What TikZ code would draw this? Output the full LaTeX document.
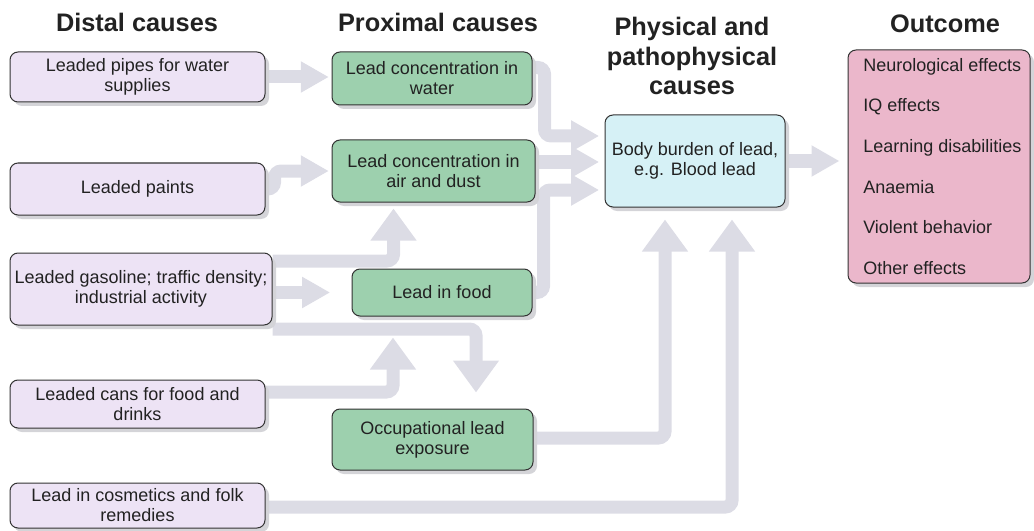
\documentclass[tikz,border=0pt]{standalone}
\usepackage{fontspec}
\setmainfont{Liberation Sans}
\usepackage{xcolor}
\definecolor{distalfill}{HTML}{EDE3F5}
\definecolor{proxfill}{HTML}{9DD0AE}
\definecolor{bodyfill}{HTML}{D6F1F6}
\definecolor{outcfill}{HTML}{EBB7CB}
\definecolor{flowgray}{HTML}{DCDCE5}
\definecolor{shadegray}{HTML}{D4D4D8}
\definecolor{boxline}{HTML}{333333}
\definecolor{txt}{HTML}{222222}
\usepackage{tikz}
\usetikzlibrary{positioning, calc, arrows.meta, shadows, backgrounds}

\tikzset{
  box/.style={draw=boxline, line width=0.75pt, rounded corners=6pt, align=center,
    text=txt, inner xsep=2pt, inner ysep=1pt,
    font=\fontsize{13.5pt}{15pt}\selectfont,
    drop shadow={shadow xshift=3pt, shadow yshift=-3pt, fill=shadegray, opacity=1}},
  distal/.style={box, fill=distalfill, minimum width=191.25pt},
  prox/.style={box, fill=proxfill},
  head/.style={font=\fontsize{19pt}{22pt}\selectfont\bfseries, text=txt, align=center},
  flow/.style={draw=flowgray, line width=9.75pt, rounded corners=5pt,
    -{Triangle[length=21pt, width=22pt]}, shorten >=2pt},
  flowup/.style={flow, -{Triangle[length=24pt, width=33pt]}}
}

\begin{document}
\begin{tikzpicture}[x=0.75pt, y=-0.75pt]
  \useasboundingbox (0,0) rectangle (1034,531);

  % headers
  \node[head] (hdist) at (137,22) {Distal causes};
  \node[head] (hprox) at (438,22) {Proximal causes};
  \node[head] (hphys) at (692,56) {Physical and\\pathophysical\\causes};
  \node[head] (hout) at (945,24) {Outcome};

  % distal causes
  \node[distal, minimum height=37.5pt] (pipes) at (137.5,77) {Leaded pipes for water\\supplies};
  \node[distal, minimum height=39pt] (paints) at (137.5,189) {Leaded paints};
  \node[distal, minimum width=196.5pt, minimum height=54pt, inner xsep=0.5pt] (gas) at (141,289)
    {Leaded gasoline; traffic density;\\industrial activity};
  \node[distal, minimum height=36pt] (cans) at (137.5,404) {Leaded cans for food and\\drinks};
  \node[distal, minimum height=33.75pt] (cosm) at (137.5,505.5) {Lead in cosmetics and folk\\remedies};

  % proximal causes
  \node[prox, minimum width=150pt, minimum height=39.75pt] (water) at (432,78.5) {Lead concentration in\\water};
  \node[prox, minimum width=152.25pt, minimum height=46.5pt] (air) at (433.5,171) {Lead concentration in\\air and dust};
  \node[prox, minimum width=135pt, minimum height=35.25pt] (food) at (442,292.5) {Lead in food};
  \node[prox, minimum width=150.75pt, minimum height=45.75pt] (occ) at (432.5,439.5) {Occupational lead\\exposure};

  % body burden and outcome
  \node[box, fill=bodyfill, minimum width=135pt, minimum height=69pt] (body) at (695,161)
    {Body burden of lead,\\e.g. Blood lead};
  \node[box, fill=outcfill, minimum width=136.5pt, minimum height=174.75pt, align=left,
    font=\fontsize{13.5pt}{30.5pt}\selectfont] (outc) at (939,166.5)
    {\hspace*{5pt}Neurological effects\\\hspace*{5pt}IQ effects\\\hspace*{5pt}Learning disabilities\\
     \hspace*{5pt}Anaemia\\\hspace*{5pt}Violent behavior\\\hspace*{5pt}Other effects};

  % flows
  \begin{scope}[on background layer]
    \draw[flow] (pipes.east) -- (pipes.east -| water.west);
    \draw[flow] (paints.east) -- ++(9,0) |- (air.west);
    \draw[flow, shorten >=16pt] (gas.east |- food.west) -- (food.west);
    \draw[flowup, shorten >=4.5pt] ($(gas.east)+(0,-28)$) -| ($(air.south)+(-40,0)$);
    \draw[flowup, shorten >=12pt] ($(gas.east)+(0,40)$) -| ($(occ.north)+(43.5,0)$);
    \draw[flowup, shorten >=15.75pt] ($(cans.east)+(0,-12)$) -| ($(food.south)+(-49,0)$);
    \draw[flow, shorten >=4pt] ($(water.east)+(0,-11)$) -- ++(12,0) |- ($(body.west)+(0,-25)$);
    \draw[flow, shorten >=4pt] ($(air.east)+(0,-9)$) -- ($(air.east -| body.west)+(0,-9)$);
    \draw[flow, shorten >=4pt] (food.east) -- ++(11,0) |- ($(body.west)+(0,29)$);
    \draw[flowup, shorten >=9pt] ($(occ.east)+(0,-1.5)$) -| ($(body.south)+(-30,0)$);
    \draw[flowup, shorten >=9pt] ($(cosm.east)+(0,1.5)$) -| ($(body.south)+(37,0)$);
    \draw[flow, shorten >=6pt] (body.east) -- (body.east -| outc.west);
  \end{scope}
\end{tikzpicture}
\end{document}
